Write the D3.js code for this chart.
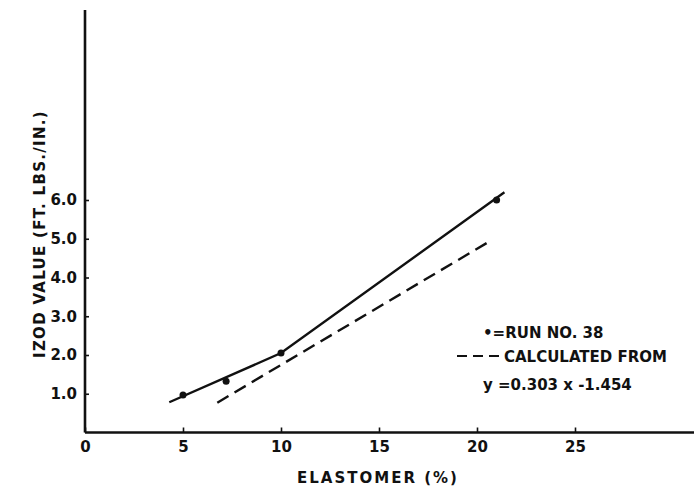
<!DOCTYPE html>
<html>
<head>
<meta charset="utf-8">
<script src="https://cdn.jsdelivr.net/npm/d3@7"></script>
<style>
  body { margin: 0; background: #fff; }
  svg { display: block; }
  text { font-family: "DejaVu Sans", sans-serif; font-weight: bold; fill: #111; }
</style>
</head>
<body>
<div id="chart"></div>
<script>
// values
const xTicks = [0, 5, 10, 15, 20, 25];
const yTicks = [1, 2, 3, 4, 5, 6];
const runX = [5, 7.2, 10, 21];
const runY = [0.97, 1.32, 2.05, 6.0];
const fitX = [4.3, 10, 21.4];
const fitY = [0.78, 2.05, 6.2];
const calcX = [6.75, 20.7];
const calcY = [0.77, 4.95];
const legendLabels = ["\u2022=RUN NO. 38", "CALCULATED FROM", "y =0.303 x -1.454"];

const width = 694, height = 492;

const x = d3.scaleLinear().domain([0, 25]).range([85, 575]);
const y = d3.scaleLinear().domain([0, 6]).range([432.5, 200]);

const svg = d3.select("#chart").append("svg")
    .attr("width", width)
    .attr("height", height);

// axis lines, longer than the tick range
svg.append("line")
    .attr("x1", x(0)).attr("x2", width)
    .attr("y1", y(0)).attr("y2", y(0))
    .attr("stroke", "#111").attr("stroke-width", 2.6);
svg.append("line")
    .attr("x1", x(0)).attr("x2", x(0))
    .attr("y1", 10).attr("y2", y(0))
    .attr("stroke", "#111").attr("stroke-width", 2.6);

const xAxis = svg.append("g")
    .attr("transform", `translate(0,${y(0)})`)
    .call(d3.axisBottom(x).tickValues(xTicks).tickSize(-5).tickPadding(9));
xAxis.select(".domain").remove();

const yAxis = svg.append("g")
    .attr("transform", `translate(${x(0)},0)`)
    .call(d3.axisLeft(y).tickValues(yTicks).tickSize(-4).tickPadding(8).tickFormat(d3.format(".1f")));
yAxis.select(".domain").remove();

svg.selectAll(".tick line").attr("stroke", "#111").attr("stroke-width", 1.6);
svg.selectAll(".tick text")
    .style("font-family", "'DejaVu Sans', sans-serif")
    .style("font-weight", "bold")
    .style("font-size", "15px")
    .attr("fill", "#111");

// axis titles
svg.append("text")
    .attr("x", 378).attr("y", 483)
    .attr("text-anchor", "middle")
    .style("font-size", "15px")
    .style("letter-spacing", "2px")
    .text("ELASTOMER  (%)");

svg.append("text")
    .attr("transform", `translate(45,234) rotate(-90)`)
    .attr("text-anchor", "middle")
    .style("font-size", "15px")
    .style("letter-spacing", "1.3px")
    .text("IZOD VALUE  (FT. LBS./IN.)");

const line = d3.line().x(d => x(d[0])).y(d => y(d[1]));

// run no. 38 line
svg.append("path")
    .datum(d3.zip(fitX, fitY))
    .attr("d", line)
    .attr("fill", "none")
    .attr("stroke", "#111")
    .attr("stroke-width", 2.4);

// calculated line
svg.append("path")
    .datum(d3.zip(calcX, calcY))
    .attr("d", line)
    .attr("fill", "none")
    .attr("stroke", "#111")
    .attr("stroke-width", 2.4)
    .attr("stroke-dasharray", "13,7");

svg.append("g")
  .selectAll("circle")
  .data(d3.zip(runX, runY))
  .join("circle")
    .attr("cx", d => x(d[0]))
    .attr("cy", d => y(d[1]))
    .attr("r", 3.5)
    .attr("fill", "#111");

// legend
const legend = svg.append("g");
legend.selectAll("text")
  .data(legendLabels)
  .join("text")
    .attr("x", (d, i) => [483, 504, 483][i])
    .attr("y", (d, i) => [338, 362, 390][i])
    .style("font-size", "15px")
    .text(d => d);
legend.append("line")
    .attr("x1", 457).attr("x2", 501)
    .attr("y1", 356).attr("y2", 356)
    .attr("stroke", "#111")
    .attr("stroke-width", 2.2)
    .attr("stroke-dasharray", "10,6");
</script>
</body>
</html>
